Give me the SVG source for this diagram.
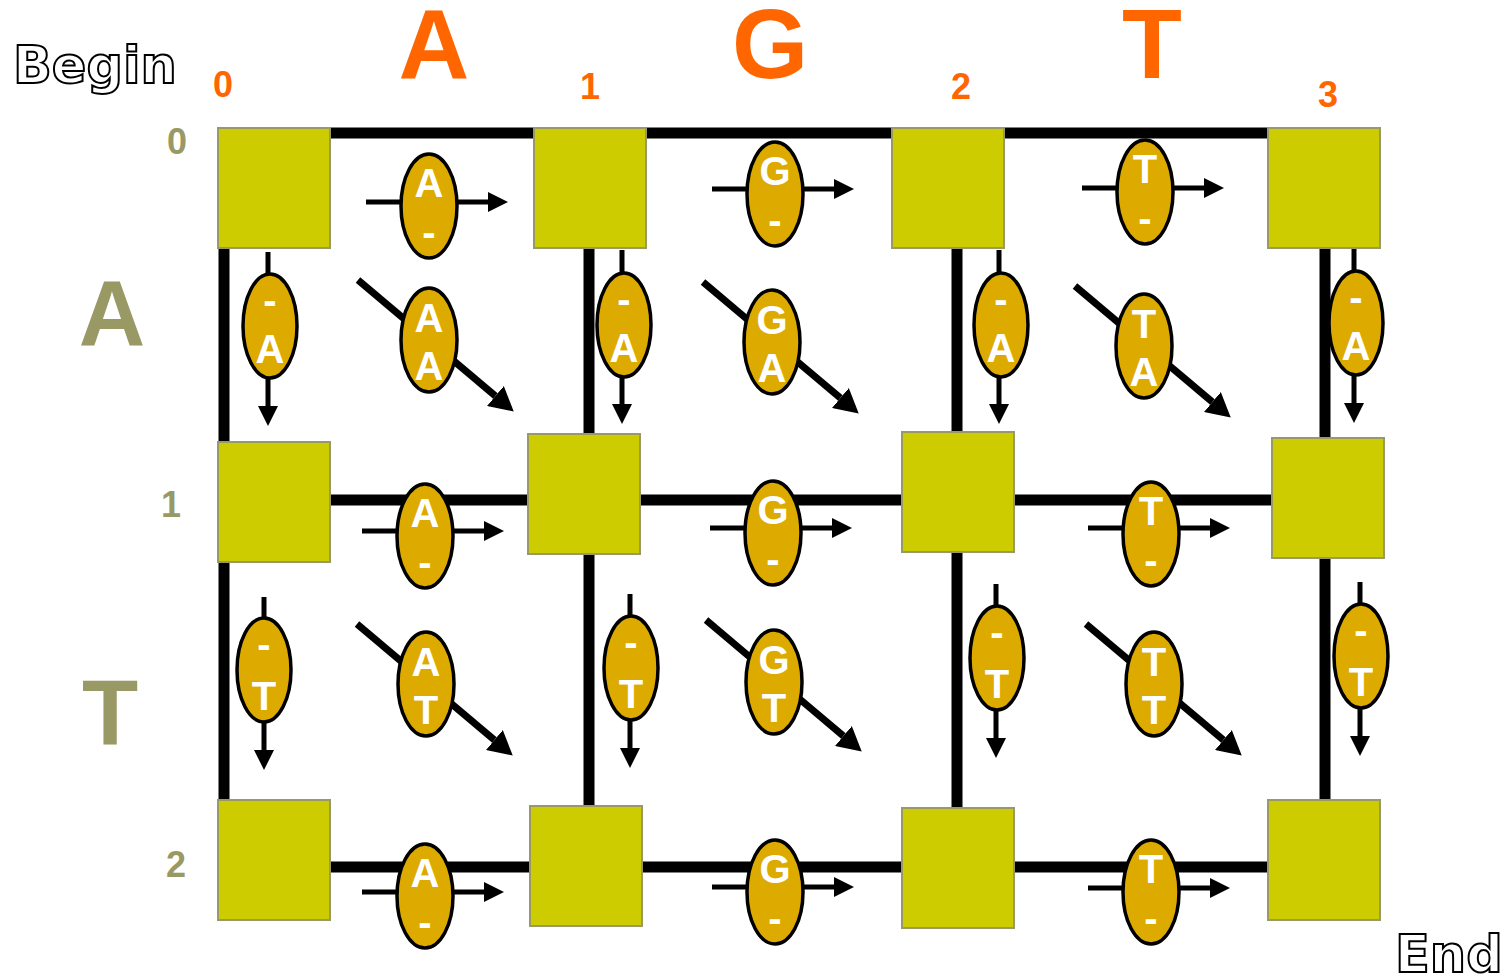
<svg xmlns="http://www.w3.org/2000/svg" width="1505" height="977" viewBox="0 0 1505 977">
<style>
.sq{fill:#CCCC00;stroke:#999966;stroke-width:2}
.el{fill:#DDAA00;stroke:#000;stroke-width:3.5}
.lt{font-family:"Liberation Sans",Arial,sans-serif;font-weight:bold;font-size:40px;fill:#fff;text-anchor:middle}
.grid{stroke:#000;stroke-width:11;fill:none}
.ar{stroke:#000;stroke-width:5;fill:none;marker-end:url(#ah)}
.ad{stroke:#000;stroke-width:7;fill:none;marker-end:url(#ahd)}
.col{font-family:"Liberation Sans",Arial,sans-serif;font-weight:bold;fill:#FF6600;text-anchor:middle}
.row{font-family:"Liberation Sans",Arial,sans-serif;font-weight:bold;fill:#999966;text-anchor:middle}
.out{font-family:"DejaVu Sans",Verdana,sans-serif;font-weight:bold;font-size:51px;fill:#fff;stroke:#000;stroke-width:2}
</style>
<defs>
<marker id="ah" markerUnits="userSpaceOnUse" viewBox="0 0 20 20" refX="0" refY="10" markerWidth="20" markerHeight="20" orient="auto"><path d="M0,0 L20,10 L0,20 Z" fill="#000"/></marker>
<marker id="ahd" markerUnits="userSpaceOnUse" viewBox="0 0 24 26" refX="0" refY="13" markerWidth="24" markerHeight="26" orient="auto"><path d="M0,0 L24,13 L0,26 Z" fill="#000"/></marker>
</defs>
<rect width="1505" height="977" fill="#fff"/>
<g id="labels">
<text class="out" x="13" y="83">Begin</text>
<text class="out" x="1395" y="972">End</text>
<text class="col" x="434" y="78" font-size="98">A</text>
<text class="col" x="770" y="78" font-size="98">G</text>
<text class="col" x="1152" y="78" font-size="98">T</text>
<text class="col" x="223" y="97" font-size="36">0</text>
<text class="col" x="590" y="99" font-size="36">1</text>
<text class="col" x="961" y="99" font-size="36">2</text>
<text class="col" x="1328" y="107" font-size="36">3</text>
<text class="row" x="177" y="154" font-size="36">0</text>
<text class="row" x="171" y="517" font-size="36">1</text>
<text class="row" x="176" y="877" font-size="36">2</text>
<text class="row" x="112" y="345" font-size="92">A</text>
<text class="row" x="110" y="745" font-size="92">T</text>
</g>
<g id="connectors">
<line class="grid" x1="218" y1="133" x2="1380" y2="133"/>
<line class="grid" x1="218" y1="500" x2="1384" y2="500"/>
<line class="grid" x1="218" y1="867" x2="1380" y2="867"/>
<line class="grid" x1="224" y1="128" x2="224" y2="920"/>
<line class="grid" x1="589" y1="128" x2="589" y2="926" stroke-width="12"/>
<line class="grid" x1="957" y1="128" x2="957" y2="928" stroke-width="14"/>
<line class="grid" x1="1325" y1="128" x2="1325" y2="920" stroke-width="12"/>
<line class="ar" x1="366" y1="202" x2="488" y2="202"/>
<line class="ar" x1="712" y1="189" x2="834" y2="189"/>
<line class="ar" x1="1082" y1="188" x2="1204" y2="188"/>
<line class="ar" x1="362" y1="531" x2="484" y2="531"/>
<line class="ar" x1="710" y1="528" x2="832" y2="528"/>
<line class="ar" x1="1088" y1="528" x2="1210" y2="528"/>
<line class="ar" x1="362" y1="892" x2="484" y2="892"/>
<line class="ar" x1="712" y1="887" x2="834" y2="887"/>
<line class="ar" x1="1088" y1="888" x2="1210" y2="888"/>
<line class="ar" x1="268" y1="252" x2="268" y2="406"/>
<line class="ar" x1="622" y1="250" x2="622" y2="404"/>
<line class="ar" x1="999" y1="250" x2="999" y2="404"/>
<line class="ar" x1="1354" y1="248" x2="1354" y2="403"/>
<line class="ar" x1="264" y1="597" x2="264" y2="750"/>
<line class="ar" x1="630" y1="594" x2="630" y2="748"/>
<line class="ar" x1="996" y1="584" x2="996" y2="738"/>
<line class="ar" x1="1360" y1="582" x2="1360" y2="736"/>
<line class="ad" x1="358" y1="280" x2="495.4" y2="396"/>
<line class="ad" x1="703" y1="282" x2="840.4" y2="398"/>
<line class="ad" x1="1075" y1="286" x2="1212.4" y2="402"/>
<line class="ad" x1="357" y1="624" x2="494.4" y2="740"/>
<line class="ad" x1="706" y1="620" x2="843.4" y2="736"/>
<line class="ad" x1="1086" y1="624" x2="1223.4" y2="740"/>
</g>
<g id="squares">
<g id="s00"><rect class="sq" x="218" y="128" width="112" height="120"/></g>
<g id="s01"><rect class="sq" x="534" y="128" width="112" height="120"/></g>
<g id="s02"><rect class="sq" x="892" y="128" width="112" height="120"/></g>
<g id="s03"><rect class="sq" x="1268" y="128" width="112" height="120"/></g>
<g id="s10"><rect class="sq" x="218" y="442" width="112" height="120"/></g>
<g id="s11"><rect class="sq" x="528" y="434" width="112" height="120"/></g>
<g id="s12"><rect class="sq" x="902" y="432" width="112" height="120"/></g>
<g id="s13"><rect class="sq" x="1272" y="438" width="112" height="120"/></g>
<g id="s20"><rect class="sq" x="218" y="800" width="112" height="120"/></g>
<g id="s21"><rect class="sq" x="530" y="806" width="112" height="120"/></g>
<g id="s22"><rect class="sq" x="902" y="808" width="112" height="120"/></g>
<g id="s23"><rect class="sq" x="1268" y="800" width="112" height="120"/></g>
</g>
<g id="edges">
<g id="h00" transform="translate(429,206)"><ellipse class="el" rx="28" ry="52"/><text class="lt" y="-9">A</text><text class="lt" y="40">-</text></g>
<g id="h01" transform="translate(775,194)"><ellipse class="el" rx="28" ry="52"/><text class="lt" y="-9">G</text><text class="lt" y="40">-</text></g>
<g id="h02" transform="translate(1145,192)"><ellipse class="el" rx="28" ry="52"/><text class="lt" y="-9">T</text><text class="lt" y="40">-</text></g>
<g id="h10" transform="translate(425,536)"><ellipse class="el" rx="28" ry="52"/><text class="lt" y="-9">A</text><text class="lt" y="40">-</text></g>
<g id="h11" transform="translate(773,533)"><ellipse class="el" rx="28" ry="52"/><text class="lt" y="-9">G</text><text class="lt" y="40">-</text></g>
<g id="h12" transform="translate(1151,534)"><ellipse class="el" rx="28" ry="52"/><text class="lt" y="-9">T</text><text class="lt" y="40">-</text></g>
<g id="h20" transform="translate(425,896)"><ellipse class="el" rx="28" ry="52"/><text class="lt" y="-9">A</text><text class="lt" y="40">-</text></g>
<g id="h21" transform="translate(775,892)"><ellipse class="el" rx="28" ry="52"/><text class="lt" y="-9">G</text><text class="lt" y="40">-</text></g>
<g id="h22" transform="translate(1151,892)"><ellipse class="el" rx="28" ry="52"/><text class="lt" y="-9">T</text><text class="lt" y="40">-</text></g>
<g id="v00" transform="translate(270,326)"><ellipse class="el" rx="27" ry="52"/><text class="lt" y="-12">-</text><text class="lt" y="37">A</text></g>
<g id="v01" transform="translate(624,325)"><ellipse class="el" rx="27" ry="52"/><text class="lt" y="-12">-</text><text class="lt" y="37">A</text></g>
<g id="v02" transform="translate(1001,325)"><ellipse class="el" rx="27" ry="52"/><text class="lt" y="-12">-</text><text class="lt" y="37">A</text></g>
<g id="v03" transform="translate(1356,323)"><ellipse class="el" rx="27" ry="52"/><text class="lt" y="-12">-</text><text class="lt" y="37">A</text></g>
<g id="v10" transform="translate(264,670)"><ellipse class="el" rx="27" ry="52"/><text class="lt" y="-12">-</text><text class="lt" y="40">T</text></g>
<g id="v11" transform="translate(631,668)"><ellipse class="el" rx="27" ry="52"/><text class="lt" y="-12">-</text><text class="lt" y="40">T</text></g>
<g id="v12" transform="translate(997,658)"><ellipse class="el" rx="27" ry="52"/><text class="lt" y="-12">-</text><text class="lt" y="40">T</text></g>
<g id="v13" transform="translate(1361,656)"><ellipse class="el" rx="27" ry="52"/><text class="lt" y="-12">-</text><text class="lt" y="40">T</text></g>
<g id="d00" transform="translate(429,340)"><ellipse class="el" rx="28" ry="52"/><text class="lt" y="-8">A</text><text class="lt" y="40">A</text></g>
<g id="d01" transform="translate(772,342)"><ellipse class="el" rx="28" ry="52"/><text class="lt" y="-8">G</text><text class="lt" y="40">A</text></g>
<g id="d02" transform="translate(1144,346)"><ellipse class="el" rx="28" ry="52"/><text class="lt" y="-8">T</text><text class="lt" y="40">A</text></g>
<g id="d10" transform="translate(426,684)"><ellipse class="el" rx="28" ry="52"/><text class="lt" y="-8">A</text><text class="lt" y="40">T</text></g>
<g id="d11" transform="translate(774,682)"><ellipse class="el" rx="28" ry="52"/><text class="lt" y="-8">G</text><text class="lt" y="40">T</text></g>
<g id="d12" transform="translate(1154,684)"><ellipse class="el" rx="28" ry="52"/><text class="lt" y="-8">T</text><text class="lt" y="40">T</text></g>
</g>
</svg>
